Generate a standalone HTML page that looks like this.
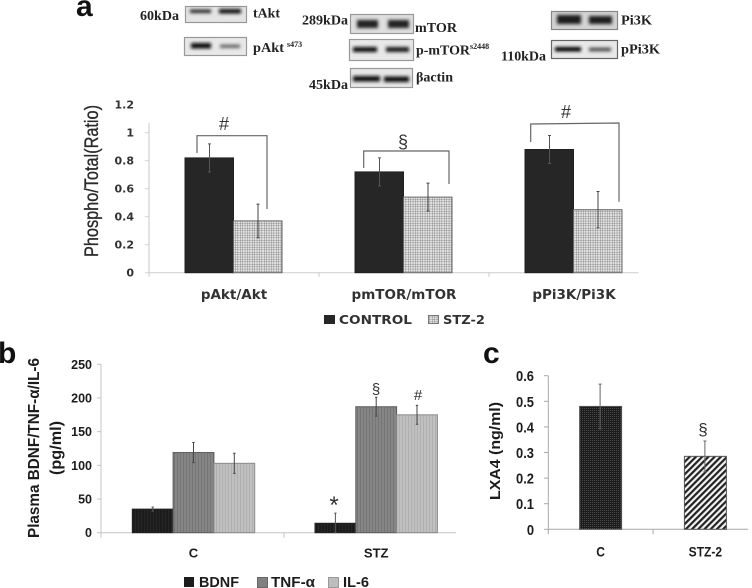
<!DOCTYPE html>
<html>
<head>
<meta charset="utf-8">
<title>Phospho ratios and plasma markers</title>
<style>
html,body{margin:0;padding:0;background:#fff;}
svg{display:block;}
.blot-label{font-family:"Liberation Serif",serif;font-weight:bold;font-size:14px;fill:#222;}
.sa{font-family:"DejaVu Sans",sans-serif;font-weight:bold;font-size:11px;fill:#333;}
.sb{font-family:"Liberation Sans",sans-serif;font-weight:bold;fill:#1d1d1d;}
.letter{font-family:"Liberation Sans",sans-serif;font-weight:bold;font-size:30px;fill:#111;}
.mark{font-family:"Liberation Sans",sans-serif;fill:#333;}
</style>
</head>
<body>
<svg id="fig" xmlns="http://www.w3.org/2000/svg" width="752" height="588" viewBox="0 0 752 588">
<defs>
  <filter id="soft" x="-30%" y="-150%" width="160%" height="400%"><feGaussianBlur stdDeviation="1.5"/></filter>
  <filter id="softer" x="-5%" y="-5%" width="110%" height="110%"><feGaussianBlur stdDeviation="0.35"/></filter>
  <pattern id="grid-a" width="2.4" height="2.4" patternUnits="userSpaceOnUse">
    <rect width="2.4" height="2.4" fill="#e4e4e4"/>
    <path d="M0 0H2.4M0 0V2.4" stroke="#777" stroke-width="0.8"/>
  </pattern>
  <pattern id="stripe-dark" width="3" height="3" patternUnits="userSpaceOnUse"><rect width="3" height="3" fill="#1b1b1b"/><rect width="1" height="3" fill="#252525"/></pattern>
  <pattern id="stripe-mid" width="3" height="3" patternUnits="userSpaceOnUse"><rect width="3" height="3" fill="#858585"/><rect width="1" height="3" fill="#767676"/></pattern>
  <pattern id="stripe-light" width="3" height="3" patternUnits="userSpaceOnUse"><rect width="3" height="3" fill="#c0c0c0"/><rect width="1" height="3" fill="#b0b0b0"/></pattern>
  <pattern id="check-c" width="2" height="2" patternUnits="userSpaceOnUse"><rect width="2" height="2" fill="#1f1f1f"/><rect width="1" height="1" fill="#484848"/></pattern>
  <pattern id="hatch-c" width="4.4" height="4.4" patternUnits="userSpaceOnUse" patternTransform="rotate(45)"><rect width="4.4" height="4.4" fill="#f4f4f4"/><rect width="2.2" height="4.4" fill="#222"/></pattern>
</defs>

<!-- Western blots -->
<g>
  <g>
    <rect x="185.5" y="6.5" width="61" height="16" fill="#e4e4e4" stroke="#999" stroke-width="1.2"/>
    <rect x="190" y="9.5" width="21" height="3.5" fill="#222" filter="url(#soft)"/>
    <rect x="219" y="9" width="22" height="4.5" fill="#111" filter="url(#soft)"/>
  </g>
  <g>
    <rect x="184.5" y="37.5" width="62" height="18" fill="#e8e8e8" stroke="#999" stroke-width="1.2"/>
    <rect x="191" y="43" width="20" height="5.5" fill="#111" filter="url(#soft)"/>
    <rect x="220" y="44.5" width="20" height="3.5" fill="#666" filter="url(#soft)"/>
  </g>
  <g>
    <rect x="350.5" y="14.5" width="63" height="19" fill="#dedede" stroke="#999" stroke-width="1.2"/>
    <rect x="357" y="20" width="21" height="8" fill="#222" filter="url(#soft)"/>
    <rect x="388" y="20" width="21" height="8" fill="#222" filter="url(#soft)"/>
  </g>
  <g>
    <rect x="349.5" y="39.5" width="64" height="21" fill="#e8e8e8" stroke="#999" stroke-width="1.2"/>
    <rect x="353" y="47" width="24" height="5" fill="#111" filter="url(#soft)"/>
    <rect x="386" y="47" width="23" height="5" fill="#1c1c1c" filter="url(#soft)"/>
  </g>
  <g>
    <rect x="350.5" y="68.5" width="62" height="19" fill="#e6e6e6" stroke="#999" stroke-width="1.2"/>
    <rect x="353" y="76" width="27" height="5.5" fill="#0c0c0c" filter="url(#soft)"/>
    <rect x="384" y="76.5" width="25" height="5.5" fill="#0c0c0c" filter="url(#soft)"/>
  </g>
  <g>
    <rect x="551.5" y="11.5" width="66" height="18" fill="#d4d4d4" stroke="#888" stroke-width="1.2"/>
    <rect x="557" y="15" width="24" height="9" fill="#1c1c1c" filter="url(#soft)"/>
    <rect x="589" y="16" width="23" height="8" fill="#1a1a1a" filter="url(#soft)"/>
  </g>
  <g>
    <rect x="551.5" y="40.5" width="66" height="18" fill="#e8e8e8" stroke="#666" stroke-width="1.2"/>
    <rect x="555" y="47" width="26" height="4.5" fill="#000" filter="url(#soft)"/>
    <rect x="589" y="47.5" width="22" height="4" fill="#555" filter="url(#soft)"/>
  </g>
  <text class="blot-label" x="140" y="20" textLength="39" lengthAdjust="spacingAndGlyphs">60kDa</text>
  <text class="blot-label" x="253" y="17.5" textLength="27" lengthAdjust="spacingAndGlyphs">tAkt</text>
  <text class="blot-label" x="253" y="52" textLength="31" lengthAdjust="spacingAndGlyphs">pAkt</text>
  <text class="blot-label" x="287" y="47" style="font-size:8px">s473</text>
  <text class="blot-label" x="302" y="24.5" textLength="46" lengthAdjust="spacingAndGlyphs">289kDa</text>
  <text class="blot-label" x="415" y="32" textLength="42" lengthAdjust="spacingAndGlyphs">mTOR</text>
  <text class="blot-label" x="416" y="54.5" textLength="54" lengthAdjust="spacingAndGlyphs">p-mTOR</text>
  <text class="blot-label" x="470" y="49" style="font-size:8px">s2448</text>
  <text class="blot-label" x="309" y="89" textLength="39" lengthAdjust="spacingAndGlyphs">45kDa</text>
  <text class="blot-label" x="416" y="81.5" textLength="37" lengthAdjust="spacingAndGlyphs">βactin</text>
  <text class="blot-label" x="621" y="24.5" textLength="31" lengthAdjust="spacingAndGlyphs">Pi3K</text>
  <text class="blot-label" x="621" y="53.5" textLength="39" lengthAdjust="spacingAndGlyphs">pPi3K</text>
  <text class="blot-label" x="501" y="60.5" textLength="45" lengthAdjust="spacingAndGlyphs">110kDa</text>
</g>

<text class="letter" x="76" y="16">a</text>
<text class="letter" x="-2" y="363">b</text>
<text class="letter" x="483" y="363">c</text>

<g id="chart-a" filter="url(#softer)">
  <text transform="translate(98,257) rotate(-90)" font-family="Liberation Sans, sans-serif" font-size="19" fill="#2a2a2a" stroke="#2a2a2a" stroke-width="0.35" textLength="152" lengthAdjust="spacingAndGlyphs">Phospho/Total(Ratio)</text>
  <g fill="none" stroke="#666" stroke-width="1.2">
    <path d="M197 153V135.7H267V209"/>
    <path d="M363.7 168V151H449V184"/>
    <path d="M530.7 142V124L619 123V201.7"/>
  </g>
  <text class="mark" x="224" y="130" font-size="18" text-anchor="middle">#</text>
  <text class="mark" x="403" y="148" font-size="18" text-anchor="middle">§</text>
  <text class="mark" x="566" y="118" font-size="18" text-anchor="middle">#</text>
  <g>
    <g>
      <rect x="324" y="315" width="11" height="9" fill="#262626"/>
      <text class="sa" x="339" y="324" style="font-size:12.5px" textLength="73" lengthAdjust="spacingAndGlyphs">CONTROL</text>
    </g>
    <g>
      <rect x="428.5" y="315.5" width="10" height="8" fill="url(#grid-a)" stroke="#777"/>
      <text class="sa" x="443" y="324" style="font-size:12.5px" textLength="42" lengthAdjust="spacingAndGlyphs">STZ-2</text>
    </g>
  </g>
</g>

<g id="chart-b" filter="url(#softer)">
  <text transform="translate(39,538) rotate(-90)" class="sb" font-size="16" fill="#222" textLength="180" lengthAdjust="spacingAndGlyphs">Plasma BDNF/TNF-α/IL-6</text>
  <text transform="translate(61,475) rotate(-90)" class="sb" font-size="16" textLength="54" lengthAdjust="spacingAndGlyphs">(pg/ml)</text>
  <text class="mark" x="376" y="394" font-size="15" text-anchor="middle">§</text>
  <text class="mark" x="418" y="400" font-size="15" text-anchor="middle">#</text>
  <text class="mark" x="334" y="513" font-size="24" text-anchor="middle">*</text>
  <g>
    <g>
      <rect x="184" y="577" width="10" height="10" fill="#1b1b1b"/>
      <text class="sb" x="199" y="587" font-size="15" textLength="40" lengthAdjust="spacingAndGlyphs">BDNF</text>
    </g>
    <g>
      <rect x="257.5" y="577.5" width="10" height="10" fill="#808080" stroke="#666"/>
      <text class="sb" x="271" y="587" font-size="15" textLength="44" lengthAdjust="spacingAndGlyphs">TNF-α</text>
    </g>
    <g>
      <rect x="328.5" y="577.5" width="10" height="10" fill="#bdbdbd" stroke="#999"/>
      <text class="sb" x="343" y="587" font-size="15" textLength="26" lengthAdjust="spacingAndGlyphs">IL-6</text>
    </g>
  </g>
</g>

<g id="chart-c" filter="url(#softer)">
  <text transform="translate(500,500) rotate(-90)" class="sb" font-size="15" textLength="98" lengthAdjust="spacingAndGlyphs">LXA4 (ng/ml)</text>
  <text class="mark" x="703" y="435" font-size="17" text-anchor="middle">§</text>
</g>
</svg>

<script>
var NS = 'http://www.w3.org/2000/svg';

var catsA = ['pAkt/Akt', 'pmTOR/mTOR', 'pPi3K/Pi3K'];
var controlA = [0.82, 0.72, 0.88];
var stzA = [0.37, 0.54, 0.45];
var controlErrA = [0.10, 0.10, 0.10];
var stzErrA = [0.12, 0.10, 0.13];
var ticksA = ['0', '0.2', '0.4', '0.6', '0.8', '1', '1.2'];

var catsB = ['C', 'STZ'];
var bdnfB = [35, 14];
var tnfB = [119, 187];
var il6B = [103, 175];
var bdnfErrB = [3, 15];
var tnfErrB = [15, 14];
var il6ErrB = [15, 14];
var ticksB = ['0', '50', '100', '150', '200', '250'];

var catsC = ['C', 'STZ-2'];
var lxaC = [0.48, 0.285];
var lxaErrC = [0.087, 0.06];
var ticksC = ['0', '0.1', '0.2', '0.3', '0.4', '0.5', '0.6'];

function mk(parent, tag, attrs, txt) {
  var n = document.createElementNS(NS, tag);
  for (var k in attrs) n.setAttribute(k, attrs[k]);
  if (txt !== undefined) n.textContent = txt;
  parent.appendChild(n);
  return n;
}

function squeeze(node, factor) {
  var len = node.getComputedTextLength();
  node.setAttribute('textLength', len * factor);
  node.setAttribute('lengthAdjust', 'spacingAndGlyphs');
}

/* Axis functions */
function yA(v) { return 272.7 - v * 140; }
function xA(i) { return 149 + i * 170; }
function yB(v) { return 532.7 - v * 0.6736; }
function xB(i) { return 101 + i * 182.7; }
function yC(v) { return 529.3 - v * 256; }
function xC(i) { return 548.3 + i * 104.8; }

function errorBar(parent, x, y0, y1, color, cap) {
  var g = mk(parent, 'path', {
    d: 'M' + x + ' ' + y0 + 'V' + y1 + 'M' + (x - cap) + ' ' + y0 + 'H' + (x + cap) + 'M' + (x - cap) + ' ' + y1 + 'H' + (x + cap),
    stroke: color, 'stroke-width': 1, fill: 'none'
  });
  
  
}

function bar(parent, x, w, y, base, fill, stroke) {
  var r = mk(parent, 'rect', { x: x, y: y, width: w, height: base - y, fill: fill, stroke: stroke, 'stroke-width': 1 });
  
  
}

var a = document.getElementById('chart-a');
var b = document.getElementById('chart-b');
var c = document.getElementById('chart-c');

/* Panel a */
var axA = mk(a, 'path', {
  d: 'M149 ' + yA(1.07) + 'V' + (yA(0) + 4) + 'M149 ' + yA(0) + 'H' + xA(2.88) + 'M' + xA(1) + ' ' + yA(0) + 'v4M' + xA(2) + ' ' + yA(0) + 'v4',
  stroke: '#d2d2d2', 'stroke-width': 1.2, fill: 'none'
});


ticksA.forEach(function (t) {
  var v = parseFloat(t);
  if (v <= 1) {
    var tk = mk(a, 'path', { d: 'M145 ' + yA(v) + 'H149', stroke: '#d2d2d2', 'stroke-width': 1 });
    
    
  }
  var lb = mk(a, 'text', { 'class': 'sa', x: 134, y: yA(v) + 4, 'text-anchor': 'end' }, t);
  
  
});
catsA.forEach(function (name, i) {
  var cx = xA(i) + 85;
  bar(a, cx - 49, 48.5, yA(controlA[i]), yA(0), '#262626', '#222');
  bar(a, cx - 0.5, 48.5, yA(stzA[i]), yA(0), 'url(#grid-a)', '#666');
  errorBar(a, cx - 24.5, yA(controlA[i] + controlErrA[i]), yA(controlA[i] - controlErrA[i]), '#555', 1.5);
  errorBar(a, cx + 24, yA(stzA[i] + stzErrA[i]), yA(stzA[i] - stzErrA[i]), '#444', 1.5);
  var lb = mk(a, 'text', { 'class': 'sa', x: cx, y: 299, 'text-anchor': 'middle', style: 'font-size:13.5px' }, name);
  
  
});

/* Panel b */
var axB = mk(b, 'path', {
  d: 'M101 ' + yB(250) + 'V' + (yB(0) + 5) + 'M101 ' + yB(0) + 'H456M' + 284 + ' ' + yB(0) + 'v5',
  stroke: '#c4c4c4', 'stroke-width': 1, fill: 'none'
});


ticksB.forEach(function (t) {
  var v = parseFloat(t);
  var tk = mk(b, 'path', { d: 'M97 ' + yB(v) + 'H101', stroke: '#c4c4c4', 'stroke-width': 1 });
  
  
  var lb = mk(b, 'text', { 'class': 'sb', x: 92, y: yB(v) + 4.5, 'text-anchor': 'end', 'font-size': 12.5 }, t);
  
  
});
catsB.forEach(function (name, i) {
  var x0 = 132.3 + xB(i) - xB(0);
  var w = 40.8;
  bar(b, x0, w, yB(bdnfB[i]), yB(0), 'url(#stripe-dark)', '#222');
  bar(b, x0 + w, w, yB(tnfB[i]), yB(0), 'url(#stripe-mid)', '#5c5c5c');
  bar(b, x0 + 2 * w, w, yB(il6B[i]), yB(0), 'url(#stripe-light)', '#8a8a8a');
  errorBar(b, x0 + w / 2, yB(bdnfB[i] + bdnfErrB[i]), yB(Math.max(bdnfB[i] - bdnfErrB[i], 0)), '#555', 1.2);
  errorBar(b, x0 + 1.5 * w, yB(tnfB[i] + tnfErrB[i]), yB(tnfB[i] - tnfErrB[i]), '#444', 1.2);
  errorBar(b, x0 + 2.5 * w, yB(il6B[i] + il6ErrB[i]), yB(il6B[i] - il6ErrB[i]), '#444', 1.2);
  var lb = mk(b, 'text', { 'class': 'sb', x: x0 + 1.5 * w, y: 557.5, 'text-anchor': 'middle', 'font-size': 13 }, name);
  
  
});

/* Panel c */
var axC = mk(c, 'path', {
  d: 'M548.3 ' + yC(0.6) + 'V' + (yC(0) + 5) + 'M548.3 ' + yC(0) + 'H748M' + xC(1) + ' ' + yC(0) + 'v5',
  stroke: '#a8a8a8', 'stroke-width': 1, fill: 'none'
});


ticksC.forEach(function (t) {
  var v = parseFloat(t);
  var tk = mk(c, 'path', { d: 'M544 ' + yC(v) + 'H548.3', stroke: '#a8a8a8', 'stroke-width': 1 });
  
  
  var lb = mk(c, 'text', { 'class': 'sb', x: 534, y: yC(v) + 5.5, 'text-anchor': 'end', 'font-size': 15 }, t);
  
  
  squeeze(lb, 0.86);
});
var fillsC = ['url(#check-c)', 'url(#hatch-c)'];
catsC.forEach(function (name, i) {
  var cx = xC(i) + 52.3;
  bar(c, cx - 21, 42, yC(lxaC[i]), yC(0), fillsC[i], '#555');
  errorBar(c, cx - 0.5, yC(lxaC[i] + lxaErrC[i]), yC(lxaC[i] - lxaErrC[i]), '#666', 1.5);
  var lb = mk(c, 'text', { 'class': 'sb', x: cx, y: 556.5, 'text-anchor': 'middle', 'font-size': 14 }, name);
  
  
  squeeze(lb, 0.86);
});
</script>
</body>
</html>
